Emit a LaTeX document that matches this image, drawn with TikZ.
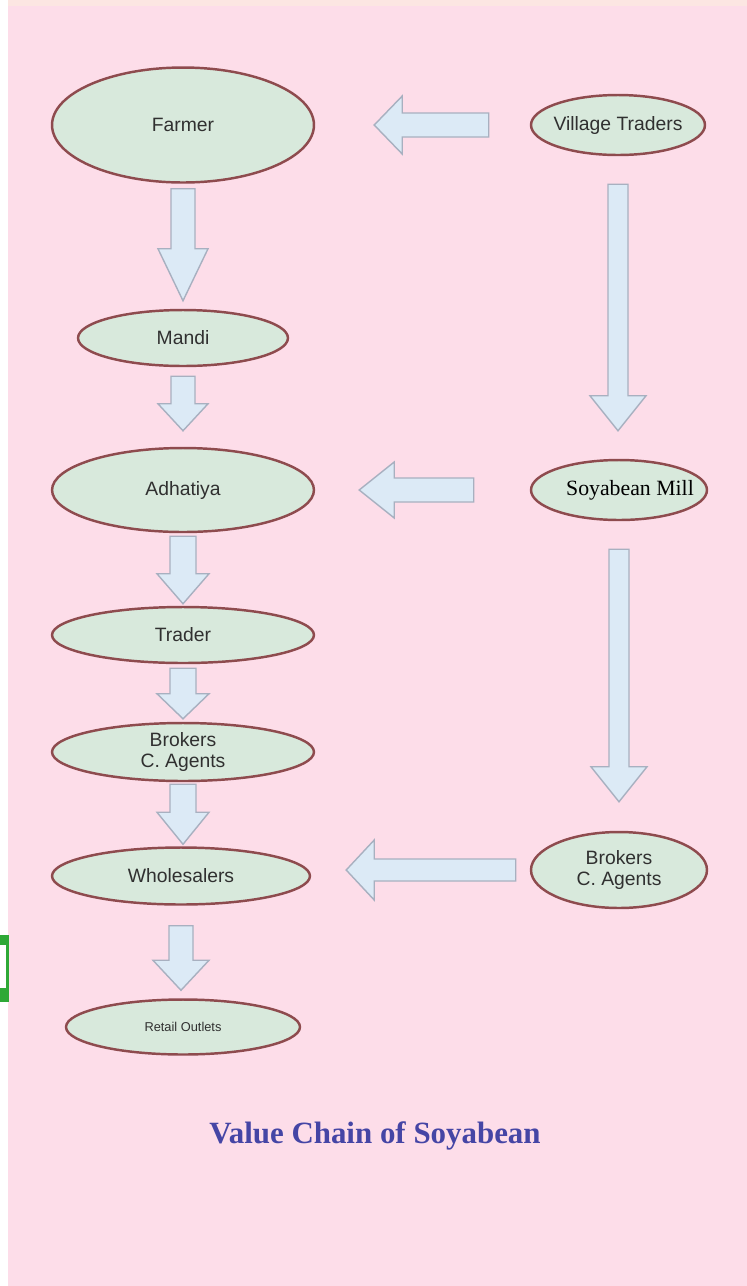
\documentclass[tikz,border=0pt]{standalone}
\usepackage{fontspec}
\setmainfont{Liberation Sans}
\newfontfamily\timesface{Liberation Serif}
\usetikzlibrary{shapes.geometric,calc}

\definecolor{bgpink}{HTML}{FDDDE9}
\definecolor{bgpeach}{HTML}{FCE6E2}
\definecolor{ovalfill}{HTML}{D8E9DC}
\definecolor{ovalline}{HTML}{8E4B4E}
\definecolor{blkfill}{HTML}{DCEAF6}
\definecolor{blkline}{HTML}{A8B0C0}
\definecolor{labeltext}{HTML}{303030}
\definecolor{titleblue}{HTML}{4545A5}
\definecolor{edgegreen}{HTML}{2EA836}

\tikzset{
    oval/.style={ellipse, draw=ovalline, fill=ovalfill, line width=1.4pt,
        inner sep=0pt, text=labeltext, font=\fontsize{11}{12.5}\selectfont,
        align=center},
    blkarrow/.style={draw=blkline, fill=blkfill, line width=0.8pt, line join=miter}
}

% down block arrow: from, to, tail gap, tip gap, shaft half, head half, head length
\newcommand{\downblk}[7]{%
    \draw[blkarrow] ($(#1.south)+(-#5,#3)$) -- ($(#1.south |- #2.north)+(-#5,-#4-#7)$)
        -- ($(#1.south |- #2.north)+(-#6,-#4-#7)$) -- ($(#1.south |- #2.north)+(0,-#4)$)
        -- ($(#1.south |- #2.north)+(#6,-#4-#7)$) -- ($(#1.south |- #2.north)+(#5,-#4-#7)$)
        -- ($(#1.south)+(#5,#3)$) -- cycle;}
% left block arrow: from, to, tail gap, tip gap, shaft half, head half, head length
\newcommand{\leftblk}[7]{%
    \draw[blkarrow] ($(#1.west)+(-#3,-#5)$) -- ($(#2.east |- #1.west)+(#4+#7,-#5)$)
        -- ($(#2.east |- #1.west)+(#4+#7,-#6)$) -- ($(#2.east |- #1.west)+(#4,0)$)
        -- ($(#2.east |- #1.west)+(#4+#7,#6)$) -- ($(#2.east |- #1.west)+(#4+#7,#5)$)
        -- ($(#1.west)+(-#3,#5)$) -- cycle;}

\begin{document}
\begin{tikzpicture}[x=0.02cm, y=-0.02cm]
    \useasboundingbox (0,0) rectangle (747,1286);
    \fill[white] (0,0) rectangle (747,1286);
    \fill[bgpink] (8,0) rectangle (747,1286);
    \fill[bgpeach] (8,0) rectangle (747,6);
    % green scrap on the left edge
    \fill[edgegreen] (0,935) rectangle (9,1002);
    \fill[white] (0,945) rectangle (6,988);

    % left column
    \node[oval, minimum width=5.24cm, minimum height=2.3cm] (farmer) at (183,125) {Farmer};
    \node[oval, minimum width=4.2cm, minimum height=1.12cm] (mandi) at (183,338) {Mandi};
    \node[oval, minimum width=5.24cm, minimum height=1.68cm] (adhatiya) at (183,490) {Adhatiya};
    \node[oval, minimum width=5.24cm, minimum height=1.12cm] (trader) at (183,635) {Trader};
    \node[oval, minimum width=5.24cm, minimum height=1.16cm] (brokersL) at (183,752) {Brokers\\C. Agents};
    \node[oval, minimum width=5.16cm, minimum height=1.14cm] (wholesalers) at (181,876) {Wholesalers};
    \node[oval, minimum width=4.68cm, minimum height=1.1cm, font=\fontsize{7.3}{9}\selectfont] (retail) at (183,1027) {Retail Outlets};

    % right column
    \node[oval, minimum width=3.48cm, minimum height=1.2cm, inner sep=-2pt] (village) at (618,125) {Village Traders};
    \node[oval, minimum width=3.52cm, minimum height=1.2cm,
        label={[xshift=0.22cm, text=black, font=\timesface\fontsize{12.4}{14}\selectfont]center:Soyabean Mill}] (mill) at (619,490) {};
    \node[oval, minimum width=3.52cm, minimum height=1.52cm] (brokersR) at (619,870) {Brokers\\C. Agents};

    % block arrows
    \leftblk{village}{farmer}{41}{59}{12}{29}{28}
    \downblk{farmer}{mandi}{5}{8}{12}{25}{52}
    \downblk{mandi}{adhatiya}{9}{16}{12}{25}{27}
    \downblk{village}{mill}{28}{28}{10}{28}{35}
    \leftblk{mill}{adhatiya}{56}{44}{12}{28}{35}
    \downblk{adhatiya}{trader}{3}{2}{13}{26}{30}
    \downblk{trader}{brokersL}{4}{3}{13}{26}{25}
    \downblk{brokersL}{wholesalers}{2}{2}{13}{26}{32}
    \downblk{mill}{brokersR}{28}{29}{10}{28}{35}
    \leftblk{brokersR}{wholesalers}{14}{35}{11}{30}{28}
    \downblk{wholesalers}{retail}{20}{8}{12}{28}{30}

    \node[text=titleblue, font=\timesface\bfseries\fontsize{17.6}{20}\selectfont] (title) at (375,1136) {Value Chain of Soyabean};
\end{tikzpicture}
\end{document}
